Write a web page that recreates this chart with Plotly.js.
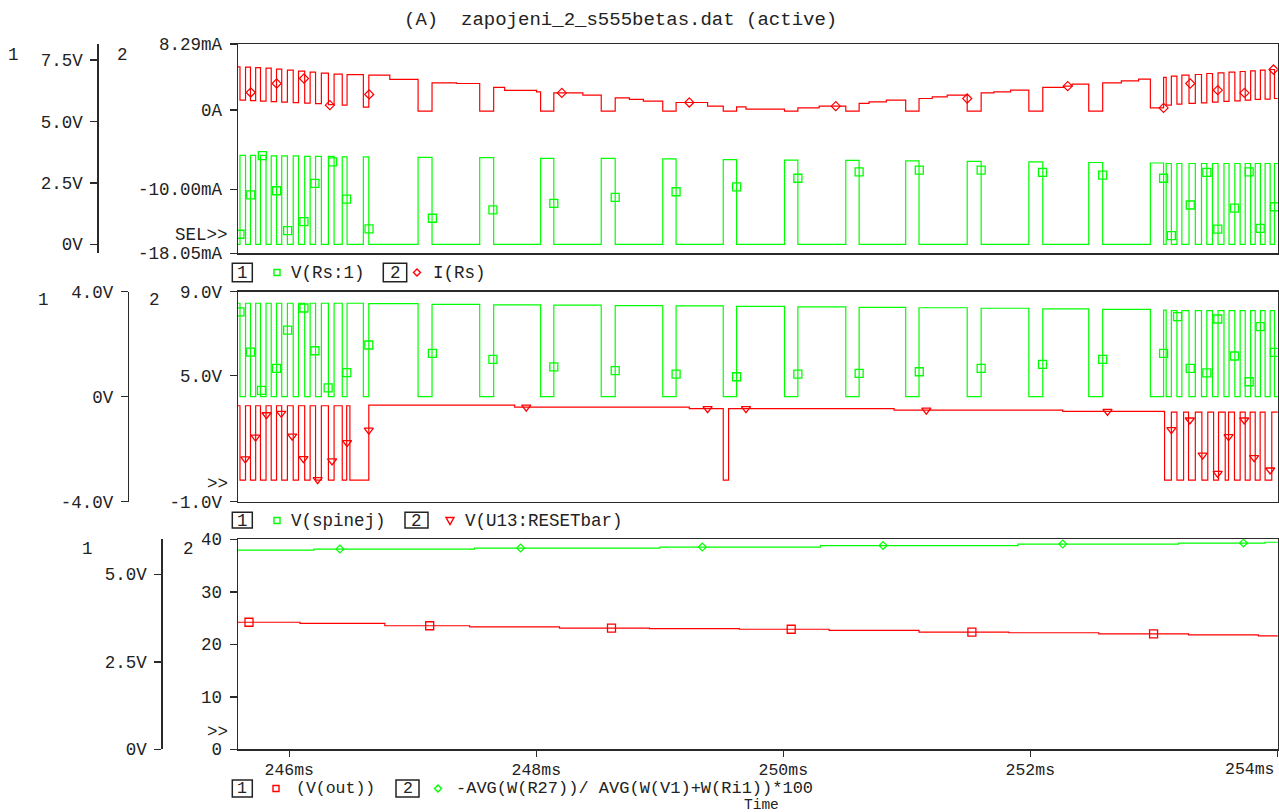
<!DOCTYPE html>
<html><head><meta charset="utf-8">
<script src="https://cdn.plot.ly/plotly-3.0.1.min.js"></script>
<style>html,body{margin:0;padding:0;background:#fff;overflow:hidden}#chart{width:1279px;height:812px}</style>
</head><body><div id="chart"></div>
<script>
// ---------------- data (time in ms) ----------------
const timeStart = 245.585, timeEnd = 254.03;
// switching pulses: V(Rs:1) high / V(spinej) low
const pulseOn = [245.601,245.686,245.767,245.854,245.939,246.032,246.125,246.213,246.317,246.429,246.600,
  247.043,247.542,248.035,248.526,249.024,249.514,250.010,250.506,250.991,251.489,251.988,252.473,252.972,
  253.100,253.187,253.285,253.386,253.475,253.568,253.656,253.740,253.821,253.901,253.977];
const pulseOff = [245.646,245.728,245.812,245.897,245.985,246.075,246.169,246.260,246.363,246.468,246.644,
  247.156,247.655,248.142,248.639,249.132,249.622,250.118,250.614,251.099,251.602,252.101,252.586,253.079,
  253.142,253.227,253.336,253.429,253.520,253.609,253.699,253.784,253.863,253.942,254.030];
// V(Rs:1) level during each pulse (V)
const rsHigh = [3.62,3.62,3.62,3.60,3.60,3.60,3.58,3.58,3.58,3.56,3.56,
  3.54,3.53,3.50,3.50,3.48,3.45,3.43,3.42,3.40,3.38,3.36,3.33,3.31,
  3.29,3.29,3.29,3.29,3.29,3.29,3.29,3.29,3.29,3.29,3.29];
const rsLow = 0.0;
// V(spinej) high level before first pulse and after each pulse (V)
const spinejHigh = [3.56,3.56,3.56,3.56,3.56,3.56,3.56,3.56,3.56,3.56,3.56,3.55,
  3.52,3.50,3.49,3.47,3.46,3.44,3.42,3.40,3.39,3.37,3.35,3.33,3.30,
  3.28,3.28,3.28,3.28,3.28,3.28,3.28,3.28,3.28,3.28,3.28];
const spinejLow = 0.0;
// I(Rs) in mA, step data
const irsT = [245.585,245.601,245.646,245.686,245.728,245.767,245.812,245.854,245.897,245.939,245.985,246.032,246.075,
  246.125,246.169,246.213,246.260,246.317,246.363,246.429,246.468,246.600,246.644,246.814,
  247.043,247.156,247.356,247.542,247.655,247.744,248.002,248.035,248.142,248.377,248.526,248.639,248.754,248.867,
  249.024,249.132,249.387,249.514,249.622,249.698,250.010,250.118,250.290,250.506,250.614,250.694,250.834,
  250.991,251.099,251.206,251.327,251.489,251.602,251.705,251.840,251.988,252.101,252.271,252.338,
  252.473,252.586,252.737,252.877,252.972,253.079,253.100,253.142,253.187,253.227,253.285,253.336,253.386,253.429,
  253.475,253.520,253.568,253.609,253.656,253.699,253.740,253.784,253.821,253.863,253.901,253.942,253.977,254.030];
const irsV = [5.41,1.22,5.37,1.16,5.31,1.09,5.25,1.03,5.12,0.97,5.00,0.91,4.87,
  0.84,4.74,0.78,4.62,0.65,4.49,0.59,4.43,0.34,4.37,3.83,
  -0.16,3.40,3.32,-0.16,2.82,2.45,2.27,-0.16,2.14,1.85,-0.16,1.51,1.31,1.09,
  -0.16,0.93,0.47,-0.16,0.38,0.09,-0.16,0.25,0.47,-0.16,0.81,1.01,1.22,
  -0.16,1.43,1.64,1.85,-0.16,2.14,2.27,2.48,-0.16,2.82,2.98,3.23,
  -0.16,3.40,3.65,3.86,0.25,4.08,0.59,4.24,0.72,4.37,0.81,4.45,0.88,4.58,
  0.97,4.66,1.06,4.74,1.13,4.83,1.22,4.91,1.31,5.00,1.35,5.08,1.43,1.43];
// V(U13:RESETbar) in V, step data
const rstT = [245.585,245.601,245.646,245.686,245.728,245.767,245.812,245.854,245.897,245.939,245.985,246.032,246.075,
  246.125,246.169,246.213,246.260,246.317,246.363,246.429,246.465,246.491,246.644,247.825,249.239,249.514,249.557,
  250.897,252.263,253.087,253.142,253.187,253.241,253.281,253.336,253.389,253.437,253.484,253.524,253.578,253.605,
  253.653,253.699,253.740,253.780,253.821,253.861,253.901,253.955,254.030];
const rstV = [3.57,0.03,3.57,0.03,3.57,0.03,3.57,0.03,3.57,0.03,3.57,0.03,3.57,
  0.03,3.57,0.03,3.57,0.03,3.57,0.03,3.57,0.03,3.60,3.50,3.43,0.03,3.43,
  3.36,3.30,0.03,3.27,0.03,3.27,0.03,3.27,0.03,3.27,0.03,3.27,0.03,3.27,
  0.03,3.27,0.03,3.27,0.03,3.27,0.03,3.27,3.27];
// V(out) (V) and efficiency (%)
const voutT = [245.585,246.087,246.774,247.461,248.188,248.916,249.644,250.371,251.099,251.826,252.554,253.281,253.847,254.030];
const voutV = [3.63,3.60,3.53,3.50,3.46,3.45,3.43,3.40,3.35,3.33,3.30,3.27,3.24,3.24];
const effT = [245.585,246.200,247.500,249.000,250.300,251.900,253.200,253.900,254.030];
const effV = [37.96,38.15,38.34,38.53,38.82,39.10,39.30,39.45,39.45];
// marker points
const rsMarkT = [245.601,245.688,245.782,245.898,245.987,246.119,246.208,246.351,246.464,246.646,247.159,247.649,248.142,248.639,249.132,249.622,250.118,250.614,251.101,251.602,252.099,252.586,253.079,253.142,253.295,253.429,253.518,253.653,253.772,253.861,253.977];
const rsMarkV = [0.41,2.01,3.61,2.18,0.56,0.92,2.48,3.36,1.84,0.63,1.06,1.40,1.67,1.91,2.14,2.34,2.69,2.95,3.02,3.02,2.93,2.82,2.69,0.35,1.60,2.93,0.62,1.47,2.95,0.65,1.53];
const irsMarkT = [245.688,245.898,246.119,246.329,246.647,248.207,249.239,250.425,251.489,252.303,253.079,253.295,253.518,253.734,253.969];
const irsMarkV = [2.19,3.32,3.95,0.59,1.94,2.14,0.93,0.47,1.43,2.98,0.25,3.32,2.48,2.14,5.08];
const spMarkT = [245.601,245.686,245.775,245.897,245.987,246.119,246.208,246.315,246.466,246.644,247.159,247.649,248.142,248.639,249.132,249.622,250.118,250.614,251.101,251.602,252.099,252.586,253.079,253.192,253.295,253.429,253.518,253.653,253.772,253.861,253.977];
const spMarkV = [3.23,1.70,0.24,1.08,2.54,3.38,1.75,0.34,0.92,1.97,1.65,1.42,1.14,0.99,0.86,0.76,0.86,0.89,0.95,1.08,1.23,1.42,1.65,3.05,1.08,0.91,2.96,1.55,0.57,2.67,1.69];
const rstMarkT = [245.644,245.727,245.816,245.935,246.024,246.115,246.230,246.347,246.468,246.644,247.919,249.387,249.698,251.158,252.625,253.142,253.292,253.395,253.517,253.605,253.732,253.812,253.942];
const rstMarkV = [1.04,2.07,3.14,3.21,2.12,1.05,0.05,0.94,1.81,2.41,3.50,3.43,3.43,3.36,3.30,2.43,2.89,1.22,0.35,2.10,2.89,1.10,0.51];
const voutMarkT = [245.674,247.137,248.609,250.064,251.527,252.998];
const voutMarkV = [3.63,3.53,3.46,3.43,3.35,3.30];
const effMarkT = [246.410,247.873,249.344,250.808,252.263,253.726];
const effMarkV = [38.15,38.34,38.53,38.82,39.10,39.30];
// tick labels
const xTickVals = [246,248,250,252,254];
const xTickText = ['246ms','248ms','250ms','252ms','254ms'];
const p1aVals=[8.29,0,-10,-18.05], p1aText=['8.29mA','0A','-10.00mA','-18.05mA'];
const p1bVals=[7.5,5,2.5,0], p1bText=['7.5V','5.0V','2.5V','0V'];
const p2aVals=[9,5,-1], p2aText=['9.0V','5.0V','-1.0V'];
const p2bVals=[4,0,-4], p2bText=['4.0V','0V','-4.0V'];
const p3aVals=[40,30,20,10,0], p3aText=['40','30','20','10','0'];
const p3bVals=[5,2.5,0], p3bText=['5.0V','2.5V','0V'];

// ---------------- build step series ----------------
function rsSeries(){const x=[timeStart],y=[rsLow];
  for(let i=0;i<pulseOn.length;i++){x.push(pulseOn[i]);y.push(rsHigh[i]);x.push(pulseOff[i]);y.push(rsLow);}
  return {x,y};}
function spSeries(){const x=[timeStart],y=[spinejHigh[0]];
  for(let i=0;i<pulseOn.length;i++){x.push(pulseOn[i]);y.push(spinejLow);x.push(pulseOff[i]);y.push(spinejHigh[i+1]);}
  return {x,y};}
const rs=rsSeries(), sp=spSeries();

const GREEN='#00ff00', RED='#ff0000';
const W=1279,H=812;
const px=x=>x/W, py=y=>1-y/H;
const FONT={family:'"Liberation Mono","Courier New",monospace',size:17.5,color:'#222'};
const ln=(c)=>({color:c,width:1.2,shape:'hv'});

const traces=[
 {x:irsT,y:irsV,xaxis:'x',yaxis:'y',mode:'lines',line:ln(RED)},
 {x:irsMarkT,y:irsMarkV,xaxis:'x',yaxis:'y',mode:'markers',marker:{symbol:'diamond-open',size:7,color:RED,line:{width:1.2,color:RED}}},
 {x:rs.x,y:rs.y,xaxis:'x',yaxis:'y2',mode:'lines',line:ln(GREEN)},
 {x:rsMarkT,y:rsMarkV,xaxis:'x',yaxis:'y2',mode:'markers',marker:{symbol:'square-open',size:8,color:GREEN,line:{width:1.3,color:GREEN}}},
 {x:rstT,y:rstV,xaxis:'x2',yaxis:'y3',mode:'lines',line:ln(RED)},
 {x:rstMarkT,y:rstMarkV,xaxis:'x2',yaxis:'y3',mode:'markers',marker:{symbol:'triangle-down-open',size:8,color:RED,line:{width:1.3,color:RED}}},
 {x:sp.x,y:sp.y,xaxis:'x2',yaxis:'y4',mode:'lines',line:ln(GREEN)},
 {x:spMarkT,y:spMarkV,xaxis:'x2',yaxis:'y4',mode:'markers',marker:{symbol:'square-open',size:8,color:GREEN,line:{width:1.3,color:GREEN}}},
 {x:effT,y:effV,xaxis:'x3',yaxis:'y5',mode:'lines',line:ln(GREEN)},
 {x:effMarkT,y:effMarkV,xaxis:'x3',yaxis:'y5',mode:'markers',marker:{symbol:'diamond-open',size:6,color:GREEN,line:{width:1.2,color:GREEN}}},
 {x:voutT,y:voutV,xaxis:'x3',yaxis:'y6',mode:'lines',line:ln(RED)},
 {x:voutMarkT,y:voutMarkV,xaxis:'x3',yaxis:'y6',mode:'markers',marker:{symbol:'square-open',size:8,color:RED,line:{width:1.3,color:RED}}}
];

const AX={showgrid:false,zeroline:false,showline:true,linecolor:'#2a2a2a',linewidth:1.5,ticks:'outside',ticklen:7,tickwidth:1.5,tickcolor:'#2a2a2a',tickfont:FONT,fixedrange:true,ticklabelstandoff:4};
const xDom=[px(238),px(1277.7)], xR=[timeStart,254.003];
const d1=[py(253.3),py(44)], d2=[py(501.7),py(291.7)], d3=[py(749.3),py(539.3)];

// last x tick label is drawn shifted left (as in the original), the rest by the axis
const xTickTextAxis = xTickText.map((t,i)=> i===xTickText.length-1 ? '' : t);
const XFONT=Object.assign({},FONT,{size:16.5});

const layout={width:W,height:H,margin:{l:0,r:0,t:0,b:0},paper_bgcolor:'#fff',plot_bgcolor:'#fff',showlegend:false,
 xaxis:Object.assign({},AX,{domain:xDom,range:xR,anchor:'y',showticklabels:false,ticks:'',mirror:true}),
 xaxis2:Object.assign({},AX,{domain:xDom,range:xR,anchor:'y3',showticklabels:false,ticks:'',mirror:true}),
 xaxis3:Object.assign({},AX,{domain:xDom,range:xR,anchor:'y5',tickvals:xTickVals,ticktext:xTickTextAxis,ticklen:6,mirror:true,ticklabelstandoff:-2,tickfont:XFONT}),
 yaxis:Object.assign({},AX,{domain:d1,anchor:'x',range:[-18.052,8.292],tickvals:p1aVals,ticktext:p1aText,mirror:true}),
 yaxis2:Object.assign({},AX,{overlaying:'y',anchor:'free',position:px(97.3),side:'left',range:[-0.366,8.155],tickvals:p1bVals,ticktext:p1bText}),
 yaxis3:Object.assign({},AX,{domain:d2,anchor:'x2',range:[-1.001,9.001],tickvals:p2aVals,ticktext:p2aText,mirror:true}),
 yaxis4:Object.assign({},AX,{overlaying:'y3',anchor:'free',position:px(127.7),side:'left',range:[-4.001,4.001],tickvals:p2bVals,ticktext:p2bText}),
 yaxis5:Object.assign({},AX,{domain:d3,anchor:'x3',range:[-0.01,40.01],tickvals:p3aVals,ticktext:p3aText,mirror:true}),
 yaxis6:Object.assign({},AX,{overlaying:'y5',anchor:'free',position:px(161.3),side:'left',range:[-0.0015,6.0],tickvals:p3bVals,ticktext:p3bText}),
 annotations:[],shapes:[]};

function txt(x,y,s,anchor,size){layout.annotations.push({xref:'paper',yref:'paper',x:px(x),y:py(y),text:s,showarrow:false,xanchor:anchor||'left',yanchor:'middle',borderpad:0,font:Object.assign({},FONT,size?{size}:{})});}
function box(x0,x1,y0,y1){layout.shapes.push({type:'rect',xref:'paper',yref:'paper',x0:px(x0),x1:px(x1),y0:py(y1),y1:py(y0),line:{color:'#222',width:1.5}});}
function sym(x,y,kind,color){
  const base={xref:'paper',yref:'paper',xsizemode:'pixel',ysizemode:'pixel',xanchor:px(x),yanchor:py(y),line:{color,width:1.4}};
  if(kind==='sq') layout.shapes.push(Object.assign(base,{type:'rect',x0:-3,x1:3,y0:-3,y1:3}));
  else if(kind==='di') layout.shapes.push(Object.assign(base,{type:'path',path:'M0,-3.5 L3.5,0 L0,3.5 L-3.5,0 Z'}));
  else layout.shapes.push(Object.assign(base,{type:'path',path:'M-4,3 L4,3 L0,-4 Z'}));
}
const NB='\u00a0';
txt(620.5,20,'(A)'+NB+NB+'zapojeni_2_s555betas.dat'+NB+'(active)','center',19);
// axis numbers
txt(13,55,'1','center'); txt(122,55,'2','center');
txt(44,300,'1','center'); txt(154,300,'2','center');
txt(88,549,'1','center'); txt(188,549,'2','center');
txt(229,235,'SEL&gt;&gt;','right'); txt(229,484,'&gt;&gt;','right'); txt(229,732,'&gt;&gt;','right');
// shifted last x tick label
txt(1276,769,xTickText[xTickText.length-1],'right',16.5);
// legend rows
box(232.3,252.3,263.3,281.7); txt(242.3,272.5,'1','center'); sym(277,272.5,'sq',GREEN); txt(290,272.5,'V(Rs:1)');
box(383.3,406.7,263.3,281.7); txt(395,272.5,'2','center'); sym(417,272.5,'di',RED); txt(432,272.5,'I(Rs)');
box(232.3,252.3,512.3,528); txt(242.3,520.5,'1','center'); sym(277,520.5,'sq',GREEN); txt(290,520.5,'V(spinej)');
box(405,428,512.3,528); txt(416.5,520.5,'2','center'); sym(450,520.5,'tr',RED); txt(464,520.5,'V(U13:RESETbar)');
box(232.3,252.3,780,797); txt(242.3,788.5,'1','center',16.5); sym(276,788.5,'sq',RED); txt(295,788.5,'(V(out))',null,16.5);
box(396,419,780,797); txt(407.5,788.5,'2','center',16.5); sym(438,788.5,'di',GREEN); txt(455,788.5,'-AVG(W(R27))/'+NB+'AVG(W(V1)+W(Ri1))*100',null,17);
txt(761.5,805,'Time','center',14.5);

Plotly.newPlot('chart',traces,layout,{displayModeBar:false,staticPlot:true});
</script></body></html>
